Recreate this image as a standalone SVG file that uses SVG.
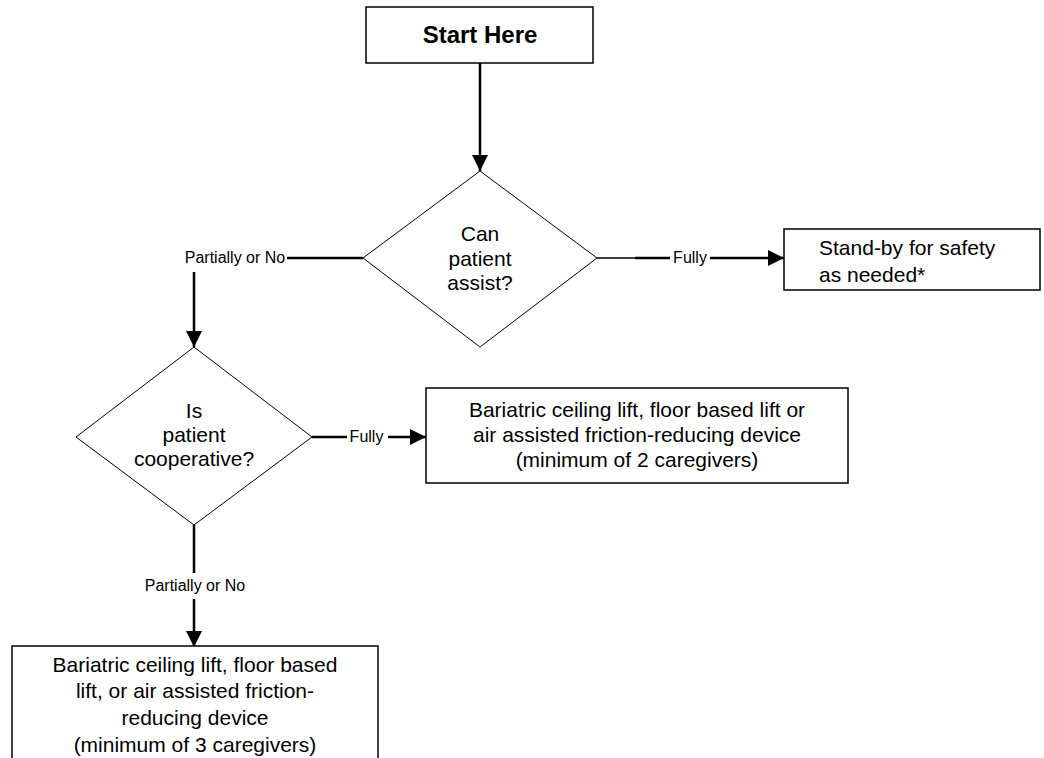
<svg xmlns="http://www.w3.org/2000/svg" width="1044" height="758" viewBox="0 0 1044 758">
<defs>
<marker id="arr" viewBox="0 0 16 16" refX="16" refY="8" markerWidth="16" markerHeight="16" markerUnits="userSpaceOnUse" orient="auto">
<path d="M0,0 L16,8 L0,16 Z" fill="#000"/>
</marker>
<style>
.box{fill:#fff;stroke:#000;stroke-width:1.5}
.dia{fill:#fff;stroke:#000;stroke-width:1}
.t{font-family:"Liberation Sans",Arial,sans-serif;font-size:21px;fill:#000;text-anchor:middle}
.lb{font-family:"Liberation Sans",Arial,sans-serif;font-size:16px;fill:#000;text-anchor:middle}
.c{fill:none;stroke:#000;stroke-width:2.5}
.thin{fill:none;stroke:#000;stroke-width:1.6}
</style>
</defs>
<rect width="1044" height="758" fill="#fff"/>
<g id="connectors">
<line class="c" x1="480" y1="63" x2="480" y2="171" marker-end="url(#arr)"/>
<line class="c" x1="363" y1="258" x2="287" y2="258"/>
<text class="lb" x="235" y="263">Partially or No</text>
<line class="c" x1="194" y1="272" x2="194" y2="347" marker-end="url(#arr)"/>
<line class="thin" x1="597" y1="258" x2="636" y2="258"/>
<line class="c" x1="635" y1="258" x2="670" y2="258"/>
<text class="lb" x="690" y="263">Fully</text>
<line class="c" x1="710" y1="258" x2="784" y2="258" marker-end="url(#arr)"/>
<line class="c" x1="312" y1="437" x2="347" y2="437"/>
<text class="lb" x="366.5" y="442">Fully</text>
<line class="c" x1="388" y1="437" x2="426" y2="437" marker-end="url(#arr)"/>
<line class="c" x1="194" y1="525" x2="194" y2="573"/>
<text class="lb" x="195" y="591">Partially or No</text>
<line class="c" x1="194" y1="599" x2="194" y2="647" marker-end="url(#arr)"/>
</g>
<g id="start">
<rect class="box" x="366" y="7" width="227" height="56"/>
<text class="t" x="480" y="43" style="font-weight:bold;font-size:24px">Start Here</text>
</g>
<g id="q1">
<polygon class="dia" points="480,171 597,258 480,347 363,258"/>
<text class="t" x="480" y="241">Can</text>
<text class="t" x="480" y="266">patient</text>
<text class="t" x="480" y="290">assist?</text>
</g>
<g id="standby">
<rect class="box" x="784" y="229" width="256" height="61"/>
<text class="t" x="819" y="255" style="text-anchor:start">Stand-by for safety</text>
<text class="t" x="819" y="282" style="text-anchor:start">as needed*</text>
</g>
<g id="q2">
<polygon class="dia" points="194,347 312,437 194,525 76,437"/>
<text class="t" x="194" y="418">Is</text>
<text class="t" x="194" y="442">patient</text>
<text class="t" x="194" y="466">cooperative?</text>
</g>
<g id="lift2">
<rect class="box" x="426" y="388" width="422" height="95"/>
<text class="t" x="637" y="417">Bariatric ceiling lift, floor based lift or</text>
<text class="t" x="637" y="442">air assisted friction-reducing device</text>
<text class="t" x="637" y="467">(minimum of 2 caregivers)</text>
</g>
<g id="lift3">
<rect class="box" x="12" y="646" width="366" height="130"/>
<text class="t" x="195" y="672">Bariatric ceiling lift, floor based</text>
<text class="t" x="195" y="698">lift, or air assisted friction-</text>
<text class="t" x="195" y="725">reducing device</text>
<text class="t" x="195" y="752">(minimum of 3 caregivers)</text>
</g>
</svg>
